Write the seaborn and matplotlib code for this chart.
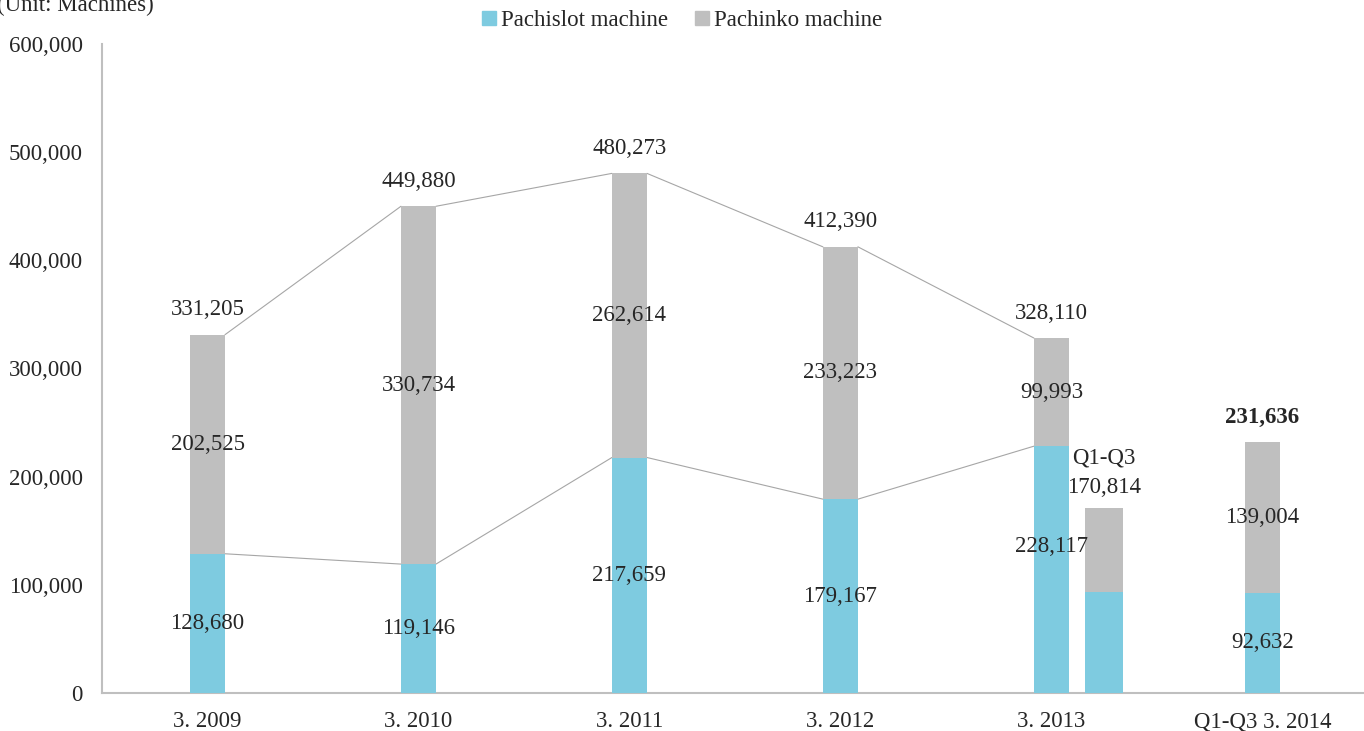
import matplotlib
matplotlib.use('Agg')
import matplotlib.pyplot as plt
from matplotlib.patches import Patch
import seaborn as sns
import pandas as pd

periods = ['3. 2009', '3. 2010', '3. 2011', '3. 2012', '3. 2013', 'Q1-Q3 3. 2014']
pachislot = [128680, 119146, 217659, 179167, 228117, 92632]
pachinko = [202525, 330734, 262614, 233223, 99993, 139004]
totals = [331205, 449880, 480273, 412390, 328110, 231636]

# Q1-Q3 of 3. 2013, drawn next to the 3. 2013 bar
q3_2013_pachislot = 93500
q3_2013_total = 170814

blue = '#7ECBE0'
gray = '#BFBFBF'
line_gray = '#A6A6A6'

df = pd.DataFrame({'period': periods, 'pachislot': pachislot,
                   'pachinko': pachinko, 'total': totals})

sns.set_style('white')
plt.rcParams['font.family'] = ['Liberation Serif', 'DejaVu Serif']

fig = plt.figure(figsize=(13.64, 7.31), dpi=100)
ax = fig.add_axes([0.0748, 0.052, 0.928, 0.888])

bw = 0.166
sns.barplot(data=df, x='period', y='total', color=gray, saturation=1,
            width=bw, errorbar=None, ax=ax, zorder=2, linewidth=0)
sns.barplot(data=df, x='period', y='pachislot', color=blue, saturation=1,
            width=bw, errorbar=None, ax=ax, zorder=3, linewidth=0)

# extra Q1-Q3 bar for 3. 2013
xq = 4 + 0.25
ax.bar(xq, q3_2013_total, width=0.178, color=gray, zorder=2, linewidth=0)
ax.bar(xq, q3_2013_pachislot, width=0.178, color=blue, zorder=3, linewidth=0)

# connector lines between bars (3. 2009 .. 3. 2013)
for i in range(4):
    ax.plot([i + bw / 2, i + 1 - bw / 2], [totals[i], totals[i + 1]],
            color=line_gray, lw=0.8, zorder=1)
    ax.plot([i + bw / 2, i + 1 - bw / 2], [pachislot[i], pachislot[i + 1]],
            color=line_gray, lw=0.8, zorder=1)

fs = 16.5
for i in range(len(periods)):
    ax.annotate(f'{totals[i]:,}', (i, totals[i]), xytext=(0, 18),
                textcoords='offset points', ha='center', va='center',
                fontsize=fs, fontweight='bold' if i == 5 else 'normal')
    ax.text(i, pachislot[i] + pachinko[i] / 2, f'{pachinko[i]:,}',
            ha='center', va='center', fontsize=fs, zorder=4)
    ymid = pachislot[i] / 2 if i != 4 else 135000
    ax.text(i, ymid, f'{pachislot[i]:,}', ha='center', va='center',
            fontsize=fs, zorder=4)

ax.text(xq, 217000, 'Q1-Q3', ha='center', va='center', fontsize=fs)
ax.text(xq, 190000, f'{q3_2013_total:,}', ha='center', va='center', fontsize=fs)

ax.set_xlim(-0.5, 5.5)
ax.set_ylim(0, 600000)
ax.set_yticks(range(0, 600001, 100000))
ax.set_yticklabels([f'{v:,}' for v in range(0, 600001, 100000)], fontsize=fs)
ax.set_xticks(range(6))
ax.set_xticklabels(periods, fontsize=fs)
ax.set_xticks([i + 0.5 for i in range(5)], minor=True)
ax.tick_params(axis='x', which='major', length=0, pad=13)
ax.tick_params(axis='x', which='minor', direction='in', length=5,
               color=gray, width=1.2)
ax.tick_params(axis='y', direction='in', length=5, color=gray, width=1.2, pad=14)
ax.set_xlabel('')
ax.set_ylabel('')

for s in ['top', 'right']:
    ax.spines[s].set_visible(False)
for s in ['left', 'bottom']:
    ax.spines[s].set_color(gray)
    ax.spines[s].set_linewidth(1.5)

handles = [Patch(color=blue, label='Pachislot machine'),
           Patch(color=gray, label='Pachinko machine')]
fig.legend(handles=handles, loc='center', bbox_to_anchor=(0.5, 0.972), ncol=2,
           frameon=False, fontsize=fs, handlelength=0.6, handleheight=0.6,
           handletextpad=0.2, columnspacing=1.2)

fig.text(-0.002, 1 - 5 / 731, '(Unit: Machines)', ha='left', va='center', fontsize=fs)

fig.savefig('out.png', dpi=100)
